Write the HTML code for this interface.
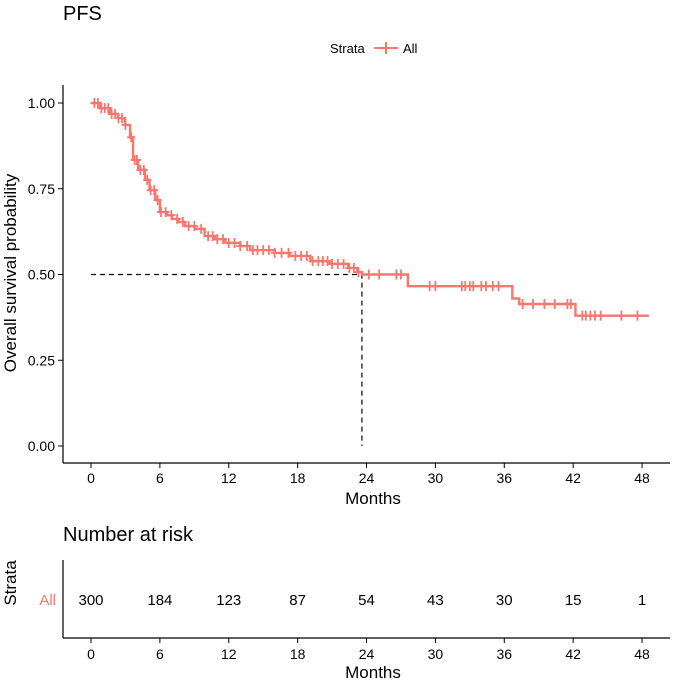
<!DOCTYPE html>
<html><head><meta charset="utf-8"><style>
body{margin:0;background:#fff;font-family:"Liberation Sans",sans-serif}
</style></head><body>
<svg id="c" width="685" height="681" xmlns="http://www.w3.org/2000/svg" font-family="Liberation Sans, sans-serif">
<text x="63" y="20" font-size="20">PFS</text>
<g>
<text x="330" y="53" font-size="13">Strata</text>
<line x1="374" y1="48" x2="398" y2="48" stroke="#F8766D" stroke-width="2"/>
<line x1="386" y1="42" x2="386" y2="54" stroke="#F8766D" stroke-width="2"/>
<text x="403" y="53" font-size="13">All</text>
</g>
<g id="axes"></g>
<g id="plot"></g>
<text transform="translate(16,273) rotate(-90)" text-anchor="middle" font-size="17">Overall survival probability</text>
<text x="373" y="504" text-anchor="middle" font-size="17">Months</text>
<text x="63" y="541" font-size="20">Number at risk</text>
<text transform="translate(16,583) rotate(-90)" text-anchor="middle" font-size="17">Strata</text>
<text x="56" y="605" text-anchor="end" font-size="15" fill="#F8766D">All</text>
<line x1="63" y1="560" x2="63" y2="638" stroke="#000" stroke-width="1.2"/>
<line x1="63" y1="638" x2="670" y2="638" stroke="#000" stroke-width="1.2"/>
<g id="risk"></g>
<text x="373" y="678" text-anchor="middle" font-size="17">Months</text>
</svg>
<script>
const xTicks=[0,6,12,18,24,30,36,42,48];
const yTicks=[0,0.25,0.5,0.75,1];
const yTickLabels=["0.00","0.25","0.50","0.75","1.00"];
const stepTimes=[0,0.8,1.65,2.35,2.96,3.4,3.66,4.1,4.7,5.1,5.6,6.0,6.6,7.06,7.6,8.2,9.06,9.9,10.8,11.7,13,13.85,16,17.3,19.1,20.8,22.4,23.2,23.6,27.6,36.7,37.3,42.2];
const stepSurv=[1,0.985,0.968,0.956,0.936,0.90,0.834,0.805,0.776,0.746,0.717,0.682,0.673,0.662,0.653,0.641,0.633,0.612,0.603,0.592,0.583,0.571,0.563,0.554,0.539,0.531,0.519,0.507,0.50,0.466,0.43,0.414,0.38];
const endTime=48.6;
const censorTimes=[0.3,0.6,0.9,1.2,1.5,1.8,2.1,2.4,2.7,3.0,3.5,3.8,4.0,4.3,4.6,4.9,5.2,5.5,5.8,6.1,6.5,7.0,7.5,8.0,8.5,9.0,9.6,10.2,10.6,11.0,11.5,12.0,12.5,13.0,13.6,14.1,14.5,15.0,15.5,16.0,16.6,17.2,17.8,18.3,18.8,19.3,19.8,20.2,20.6,21.0,21.5,22.0,22.5,22.9,23.3,24.2,25.1,26.6,27.0,29.5,30.0,32.3,32.6,33.0,33.3,34.0,34.4,35.0,35.5,37.6,38.5,39.5,40.4,41.5,41.8,42.8,43.1,43.5,43.9,44.4,46.2,47.6];
const riskCounts=[300,184,123,87,54,43,30,15,1];
const median=23.6;
const NS="http://www.w3.org/2000/svg";
const xs=t=>91+t*11.48, ys=s=>446-s*343;
function mk(p,tag,a){const e=document.createElementNS(NS,tag);for(const k in a)e.setAttribute(k,a[k]);p.appendChild(e);return e;}
const ax=document.getElementById('axes'),pl=document.getElementById('plot'),rk=document.getElementById('risk');
let e=mk(ax,'line',{x1:63,y1:85,x2:63,y2:463,stroke:'#000','stroke-width':1.2});


e=mk(ax,'line',{x1:63,y1:463,x2:670,y2:463,stroke:'#000','stroke-width':1.2});


yTicks.forEach((v,i)=>{mk(ax,'line',{x1:58,y1:ys(v),x2:63,y2:ys(v),stroke:'#000'});
const t=mk(ax,'text',{x:55,y:ys(v)+5,'text-anchor':'end','font-size':14});t.textContent=yTickLabels[i];

});
xTicks.forEach((v,i)=>{mk(ax,'line',{x1:xs(v),y1:463,x2:xs(v),y2:468,stroke:'#000'});
const t=mk(ax,'text',{x:xs(v),y:483,'text-anchor':'middle','font-size':14});t.textContent=v;


mk(rk,'line',{x1:xs(v),y1:638,x2:xs(v),y2:643,stroke:'#000'});
const t2=mk(rk,'text',{x:xs(v),y:659,'text-anchor':'middle','font-size':14});t2.textContent=v;


const r=mk(rk,'text',{x:xs(v),y:605,'text-anchor':'middle','font-size':15});r.textContent=riskCounts[i];

});
function survAt(t){let s=1;for(let i=0;i<stepTimes.length;i++)if(stepTimes[i]<=t)s=stepSurv[i];return s;}
e=mk(pl,'path',{d:`M${xs(0)},${ys(0.5)}H${xs(median)}V${ys(0)}`,fill:'none',stroke:'#000','stroke-dasharray':'5,4','stroke-width':1.2});


let d=`M${xs(stepTimes[0])},${ys(stepSurv[0])}`;
for(let i=1;i<stepTimes.length;i++)d+=`H${xs(stepTimes[i])}V${ys(stepSurv[i])}`;
d+=`H${xs(endTime)}`;
e=mk(pl,'path',{d,fill:'none',stroke:'#F8766D','stroke-width':2.4});


censorTimes.forEach(t=>{const y=ys(survAt(t)),x=xs(t);
const c=mk(pl,'path',{d:`M${x},${y-5}V${y+5}M${x-4},${y}H${x+4}`,stroke:'#F8766D','stroke-width':1.8});

});
</script>
</body></html>
